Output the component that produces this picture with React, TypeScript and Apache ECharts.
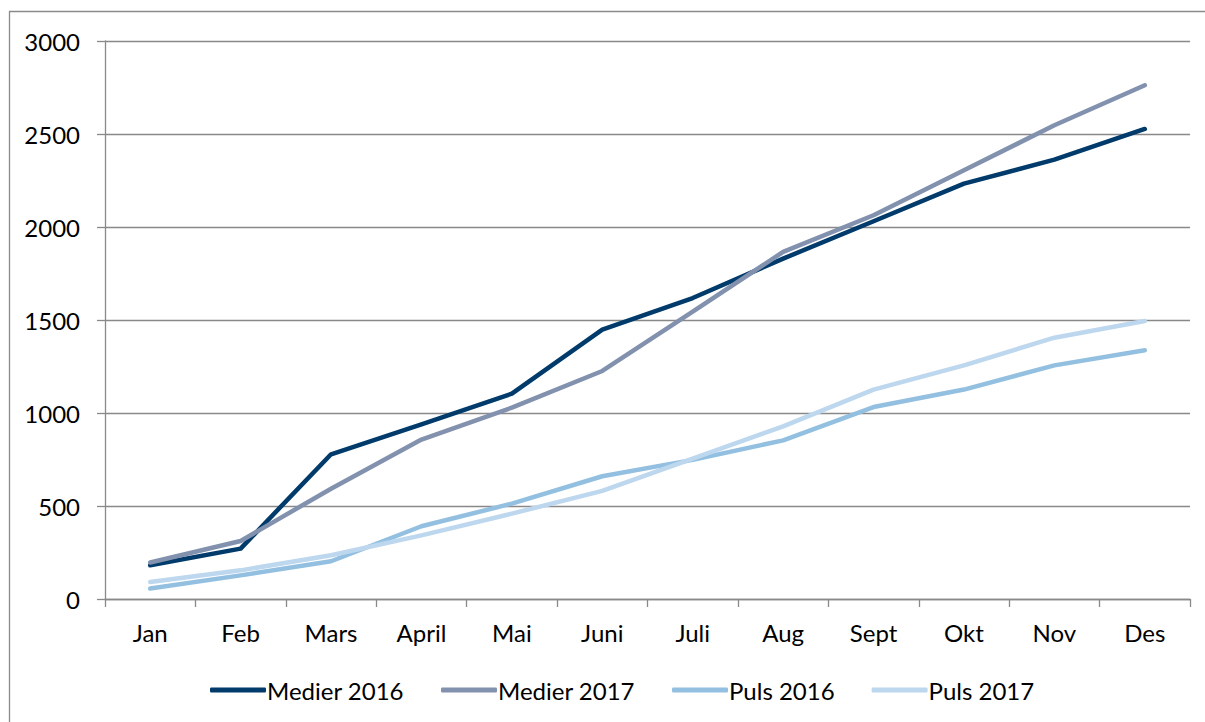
import React, { useEffect, useRef } from "react";
import * as echarts from "echarts";

const months = ["Jan", "Feb", "Mars", "April", "Mai", "Juni", "Juli", "Aug", "Sept", "Okt", "Nov", "Des"];
const medier2016 = [181, 271, 778, 939, 1104, 1448, 1618, 1830, 2031, 2233, 2362, 2527];
const medier2017 = [196, 312, 593, 857, 1029, 1226, 1545, 1866, 2063, 2305, 2547, 2762];
const puls2016 = [56, 127, 203, 391, 513, 660, 748, 853, 1032, 1126, 1256, 1337];
const puls2017 = [91, 154, 235, 342, 459, 581, 755, 928, 1126, 1256, 1405, 1495];

const seriesNames = ["Medier 2016", "Medier 2017", "Puls 2016", "Puls 2017"];
const seriesColors = ["#003B6B", "#8291AE", "#93C0E0", "#BDD7EE"];
const seriesData = [medier2016, medier2017, puls2016, puls2017];

const FONT = "Lato, 'Noto Sans', sans-serif";

export default function App() {
  const ref = useRef<HTMLDivElement>(null);
  useEffect(() => {
    const chart = echarts.init(ref.current!, null, { renderer: "svg" });
    chart.setOption({
      animation: false,
      backgroundColor: "#ffffff",
      graphic: [
        {
          type: "rect",
          shape: { x: 9.5, y: 11.5, width: 1210, height: 730 },
          style: { fill: "none", stroke: "#8a8a8a", lineWidth: 1.3 },
          silent: true,
        },
      ],
      grid: { left: 105, right: 15, top: 41, bottom: 123 },
      legend: {
        left: 205,
        top: 673,
        icon: "roundRect",
        itemWidth: 56,
        itemHeight: 5,
        itemGap: 37,
        textStyle: { fontFamily: FONT, fontSize: 24, color: "#000", padding: [0, 0, 0, -4] },
        data: seriesNames,
      },
      xAxis: {
        type: "category",
        data: months,
        boundaryGap: true,
        axisLine: { lineStyle: { color: "#898989", width: 1.3 } },
        axisTick: { show: true, length: 8, inside: false, lineStyle: { color: "#898989", width: 1.3 } },
        axisLabel: { fontFamily: FONT, fontSize: 24, color: "#000", margin: 21 },
      },
      yAxis: {
        type: "value",
        min: 0,
        max: 3000,
        interval: 500,
        axisLine: { show: true, lineStyle: { color: "#898989", width: 1.3 } },
        axisTick: { show: true, length: 8, lineStyle: { color: "#898989", width: 1.3 } },
        splitLine: { lineStyle: { color: "#898989", width: 1.3 } },
        axisLabel: { fontFamily: FONT, fontSize: 24, color: "#000", margin: 25, formatter: (v: number) => String(v) },
      },
      series: seriesNames.map((name, i) => ({
        name,
        type: "line",
        data: seriesData[i],
        symbol: "none",
        color: seriesColors[i],
        itemStyle: { color: seriesColors[i] },
        lineStyle: { color: seriesColors[i], width: 4.5, cap: "round", join: "round" },
      })),
    });
    return () => chart.dispose();
  }, []);
  return <div ref={ref} style={{ position: "fixed", left: 0, top: 0, width: 1205, height: 722 }} />;
}
